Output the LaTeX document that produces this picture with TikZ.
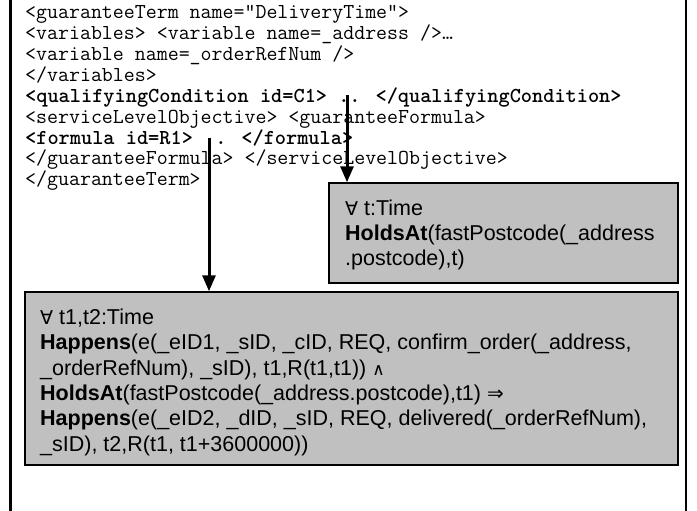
\documentclass[tikz,border=0pt]{standalone}
\usepackage{fontspec}
\setmainfont{Liberation Sans}
\newfontfamily\symfont{DejaVu Sans}
\usetikzlibrary{arrows.meta}
\begin{document}
\begin{tikzpicture}[x=1pt,y=-1pt,
  codeline/.style={anchor=base west,inner sep=0pt,font=\ttfamily\fontsize{21.3}{20.9}\selectfont},
  boldcode/.style={codeline,font=\ttfamily\bfseries\fontsize{21.3}{20.9}\selectfont},
  boxline/.style={anchor=base west,inner sep=0pt,font=\fontsize{21.5}{25.3}\selectfont},
  graybox/.style={draw=black,line width=1.5pt,fill=gray75,inner sep=0pt},
  frameline/.style={line width=2.6pt,black},
  arrowline/.style={line width=3pt,-{Triangle[length=16pt,width=13pt]}}]
\definecolor{gray75}{HTML}{C0C0C0}
\useasboundingbox (0,0) rectangle (697,511);
% frame
\coordinate (fl1) at (10.5,0); \coordinate (fl2) at (10.5,511);
\coordinate (fr1) at (686,0); \coordinate (fr2) at (686,511);
\draw[frameline] (fl1) -- (fl2);
\draw[frameline] (fr1) -- (fr2);
% code lines
\node[codeline] (l1) at (25,18.6) {<guaranteeTerm name=”DeliveryTime”>};
\node[codeline] (l2) at (25,39.5) {<variables> <variable name=\_address />…};
\node[codeline] (l3) at (25,60.4) {<variable name=\_orderRefNum />};
\node[codeline] (l4) at (25,81.3) {</variables>};
\node[boldcode] (l5) at (25,102.2) {<qualifyingCondition id=C1> .. </qualifyingCondition>};
\node[codeline] (l6) at (25,123.1) {<serviceLevelObjective> <guaranteeFormula>};
\node[boldcode] (l7) at (25,144.0) {<formula id=R1> .. </formula>};
\node[codeline] (l8) at (25,164.9) {</guaranteeFormula> </serviceLevelObjective>};
\node[codeline] (l9) at (25,185.8) {</guaranteeTerm>};
% boxes
\node[graybox,minimum width=349pt,minimum height=100pt] (sbox) at (503.5,233) {};
\node[graybox,minimum width=653pt,minimum height=173pt] (bbox) at (351.5,378.5) {};
% small box text
\node[boxline] (s1) at (345,215.5) {{\symfont\fontsize{19}{20}\selectfont ∀} t:Time};
\node[boxline] (s2) at (345,240.5) {\textbf{HoldsAt}(fastPostcode(\_address};
\node[boxline] (s3) at (345,265.5) {.postcode),t)};
% big box text
\node[boxline] (b1) at (40,324.5) {{\symfont\fontsize{19}{20}\selectfont ∀} t1,t2:Time};
\node[boxline] (b2) at (40,349.8) {\textbf{Happens}(e(\_eID1, \_sID, \_cID, REQ, confirm\_order(\_address,};
\node[boxline] (b3) at (40,375.1) {\_orderRefNum), \_sID), t1,R(t1,t1)) {\symfont\fontsize{17}{20}\selectfont ∧}};
\node[boxline] (b4) at (40,400.4) {\textbf{HoldsAt}(fastPostcode(\_address.postcode),t1) {\symfont\fontsize{20}{20}\selectfont ⇒}};
\node[boxline] (b5) at (40,425.7) {\textbf{Happens}(e(\_eID2, \_dID, \_sID, REQ, delivered(\_orderRefNum),};
\node[boxline] (b6) at (40,451.0) {\_sID), t2,R(t1, t1+3600000))};
% arrows
\coordinate (a1) at (347,95);
\coordinate (a2) at (209,138);
\draw[arrowline] (a1) -- (a1 |- sbox.north);
\draw[arrowline] (a2) -- (a2 |- bbox.north);
\end{tikzpicture}
\end{document}
